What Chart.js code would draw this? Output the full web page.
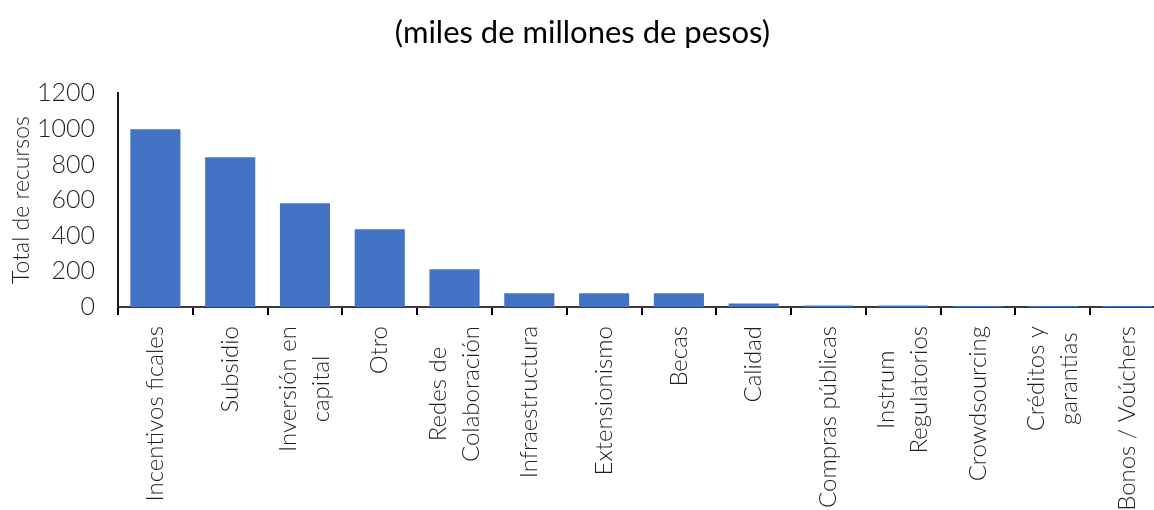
<!DOCTYPE html>
<html>

<head>
    <meta charset='UTF-8'>
    <title></title>
    <style>
        html, body {
            margin: 0;
            padding: 0;
            overflow: hidden;
            background: #fff;
        }

        #chart-container {
            width: 1165px;
            height: 510px;
        }
    </style>
</head>

<body>
    <script src="https://cdn.jsdelivr.net/npm/chart.js@4/dist/chart.umd.min.js"></script>
    <div id="chart-container">
        <canvas id="chart"></canvas>
    </div>

    <script>
        // data
        let categories = [
            ["Incentivos ficales"],
            ["Subsidio"],
            ["Inversión en", "capital"],
            ["Otro"],
            ["Redes de", "Colaboración"],
            ["Infraestructura"],
            ["Extensionismo"],
            ["Becas"],
            ["Calidad"],
            ["Compras públicas"],
            ["Instrum", "Regulatorios"],
            ["Crowdsourcing"],
            ["Créditos y", "garantias"],
            ["Bonos / Voúchers"]
        ];
        let recursos = [997, 841, 582, 436, 212, 77, 77, 77, 20, 8, 8, 6, 6, 6];
        let yTicks = [0, 200, 400, 600, 800, 1000, 1200];

        let fontName = "Lato, 'DejaVu Sans', sans-serif";
        let textColor = "#1f1f1f";

        // excel style rotated labels: lines centred on the category, text centred inside the block
        let rotatedLabels = {
            id: "rotatedLabels",
            afterDraw(chart) {
                let ctx = chart.ctx;
                let xScale = chart.scales.x;
                let top = xScale.top + 19;
                let lineGap = 33;
                ctx.save();
                ctx.font = "300 24px " + fontName;
                ctx.fillStyle = textColor;
                ctx.textAlign = "center";
                ctx.textBaseline = "middle";
                categories.forEach(function(lines, i) {
                    let center = xScale.getPixelForValue(i);
                    let widest = 0;
                    lines.forEach(function(l) {
                        widest = Math.max(widest, ctx.measureText(l).width);
                    });
                    lines.forEach(function(l, j) {
                        let x = center + (j - (lines.length - 1) / 2) * lineGap;
                        ctx.save();
                        ctx.translate(x, top + widest / 2);
                        ctx.rotate(-Math.PI / 2);
                        ctx.fillText(l, 0, 0);
                        ctx.restore();
                    });
                });
                ctx.restore();
            }
        };

        let context = document.getElementById("chart").getContext("2d");
        let chart = new Chart(context, {
            type: "bar",
            data: {
                labels: categories.map(function(c) { return c.join(" "); }),
                datasets: [{
                    label: "Total de recursos",
                    backgroundColor: "#4472C4",
                    borderWidth: 0,
                    barPercentage: 0.67,
                    categoryPercentage: 1.0,
                    data: recursos
                }]
            },
            options: {
                responsive: true,
                maintainAspectRatio: false,
                animation: false,
                layout: {
                    padding: 0
                },
                plugins: {
                    legend: { display: false },
                    tooltip: { enabled: false },
                    title: {
                        display: true,
                        text: "(miles de millones de pesos)",
                        color: "#000",
                        font: { family: fontName, size: 31, weight: "normal" },
                        padding: { top: 14, bottom: 42 }
                    }
                },
                scales: {
                    x: {
                        grid: {
                            display: true,
                            drawOnChartArea: false,
                            drawTicks: true,
                            tickLength: 8,
                            color: "#000",
                            lineWidth: 2,
                            offset: true
                        },
                        border: { display: true, color: "#3a3a3a", width: 2 },
                        ticks: { display: false },
                        afterFit: function(scale) {
                            scale.height = 203;
                        }
                    },
                    y: {
                        min: 0,
                        max: 1200,
                        afterBuildTicks: function(scale) {
                            scale.ticks = yTicks.map(function(v) { return { value: v }; });
                        },
                        grid: { display: false, drawTicks: false },
                        border: { display: true, color: "#1a1a1a", width: 2 },
                        ticks: {
                            color: textColor,
                            padding: 23,
                            font: { family: fontName, size: 25, weight: "300" },
                            callback: function(v) { return String(v); }
                        },
                        title: {
                            display: true,
                            text: "Total de recursos",
                            color: textColor,
                            font: { family: fontName, size: 23, weight: "300" },
                            padding: { top: 8, bottom: 0 }
                        },
                        afterFit: function(scale) {
                            scale.width = 118;
                        }
                    }
                }
            },
            plugins: [rotatedLabels]
        });
    </script>

</body>

</html>
